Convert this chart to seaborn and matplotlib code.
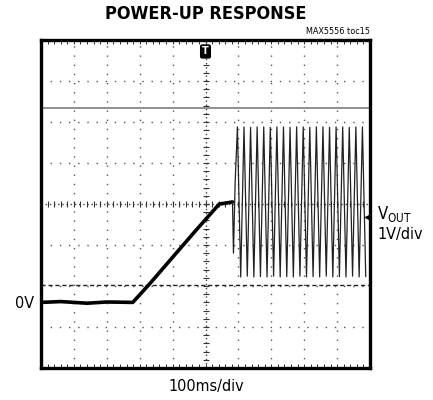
import numpy as np
import pandas as pd
import matplotlib
matplotlib.use("Agg")
import matplotlib.pyplot as plt
import seaborn as sns

# trace: time in ms (100ms/div), volts (1V/div)
ramp_t = [0, 60, 140, 200, 279, 330, 400, 470, 542, 560, 582]
ramp_v = [0.0, 0.02, -0.02, 0.01, 0.0, 0.45, 1.1, 1.75, 2.4, 2.42, 2.45]

osc_t = [582, 585, 590, 597, 607, 617, 627, 637, 647, 657, 667, 677, 687,
         697, 707, 717, 727, 737, 747, 757, 767, 777, 787, 797, 807, 817,
         827, 837, 847, 857, 867, 877, 887, 897, 907, 917, 927, 937, 947,
         957, 967, 977, 987]
osc_v = [2.45, 1.2, 2.9, 4.28, 0.62, 4.28, 0.64, 4.27, 0.62, 4.28, 0.63,
         4.28, 0.62, 4.27, 0.64, 4.28, 0.62, 4.28, 0.63, 4.27, 0.62, 4.28,
         0.64, 4.28, 0.62, 4.27, 0.63, 4.28, 0.62, 4.28, 0.64, 4.27, 0.62,
         4.28, 0.63, 4.28, 0.62, 4.27, 0.64, 4.28, 0.62, 4.28, 0.63]

ref_level = 4.74    # gray reference line
cursor_level = 0.42  # dashed cursor line
trigger_t = 500

ramp = pd.DataFrame({"t": ramp_t, "v": ramp_v})
osc = pd.DataFrame({"t": osc_t, "v": osc_v})

sns.set_style("white")
plt.rcParams["font.family"] = ["DejaVu Sans"]
plt.rcParams["text.color"] = "black"

fig = plt.figure(figsize=(4.33, 4.0), dpi=100)
ax = fig.add_axes([41 / 433, 32 / 400, 329 / 433, 328 / 400])

y0, y1 = -1.6, 6.4
ax.set_xlim(0, 1000)
ax.set_ylim(y0, y1)

# graticule
for x in np.arange(100, 1000, 100):
    if x != 500:
        ax.axvline(x, color="#555555", lw=1.0, ls=(0, (1, 5.6)))
for y in np.arange(y0 + 1, y1, 1.0):
    if abs(y - 2.4) > 0.01:
        ax.axhline(y, color="#555555", lw=1.0, ls=(0, (1, 5.6)))
ax.axvline(500, color="#444444", lw=1.0, ls=(0, (1, 2)))
ax.axhline(2.4, color="#444444", lw=1.0, ls=(0, (1, 2)))
tx = np.arange(0, 1001, 20)
ax.plot(tx, np.full_like(tx, 2.4, dtype=float), ls="none", marker="|",
        ms=5, mew=0.8, color="#333333")
ty = np.arange(y0, y1 + 0.01, 0.2)
ax.plot(np.full_like(ty, 500.0), ty, ls="none", marker="_",
        ms=5, mew=0.8, color="#333333")
# border ticks
ax.plot(tx, np.full_like(tx, y1 - 0.05, dtype=float), ls="none", marker="|",
        ms=3, mew=0.7, color="#333333")
ax.plot(tx, np.full_like(tx, y0 + 0.05, dtype=float), ls="none", marker="|",
        ms=3, mew=0.7, color="#333333")

ax.axhline(ref_level, color="#888888", lw=1.3)
ax.axhline(cursor_level, color="#222222", lw=1.0, ls=(0, (3, 2)))

# trace
sns.lineplot(data=ramp, x="t", y="v", ax=ax, color="black", lw=2.6, sort=False)
sns.lineplot(data=osc, x="t", y="v", ax=ax, color="#222222", lw=0.9, sort=False)

# trigger marker
ax.text(trigger_t, y1 - 0.28, "T", ha="center", va="center", color="white",
        fontsize=7, fontweight="bold",
        bbox=dict(boxstyle="round,pad=0.15", fc="black", ec="black"))
ax.plot([995], [2.09], marker="<", ms=4, color="black")

ax.set_xticks([])
ax.set_yticks([])
ax.set_xlabel("")
ax.set_ylabel("")
for s in ax.spines.values():
    s.set_linewidth(2.4)
    s.set_color("black")

cond = dict(fontstretch="condensed")
fig.text(206 / 433, 1 - 14 / 400, "POWER-UP RESPONSE", ha="center", va="center",
         fontsize=13, fontweight="bold", **cond)
fig.text(370 / 433, 1 - 31 / 400, "MAX5556 toc15", ha="right", va="center",
         fontsize=6.5, **cond)
fig.text(377 / 433, 1 - 214 / 400, r"V$_{\mathregular{OUT}}$", ha="left", va="center",
         fontsize=12, **cond)
fig.text(377 / 433, 1 - 234 / 400, "1V/div", ha="left", va="center", fontsize=11.5, **cond)
fig.text(34 / 433, 1 - 303 / 400, "0V", ha="right", va="center", fontsize=11.5, **cond)
fig.text(206 / 433, 1 - 386 / 400, "100ms/div", ha="center", va="center", fontsize=11.5, **cond)

fig.savefig("out.png", dpi=100)
